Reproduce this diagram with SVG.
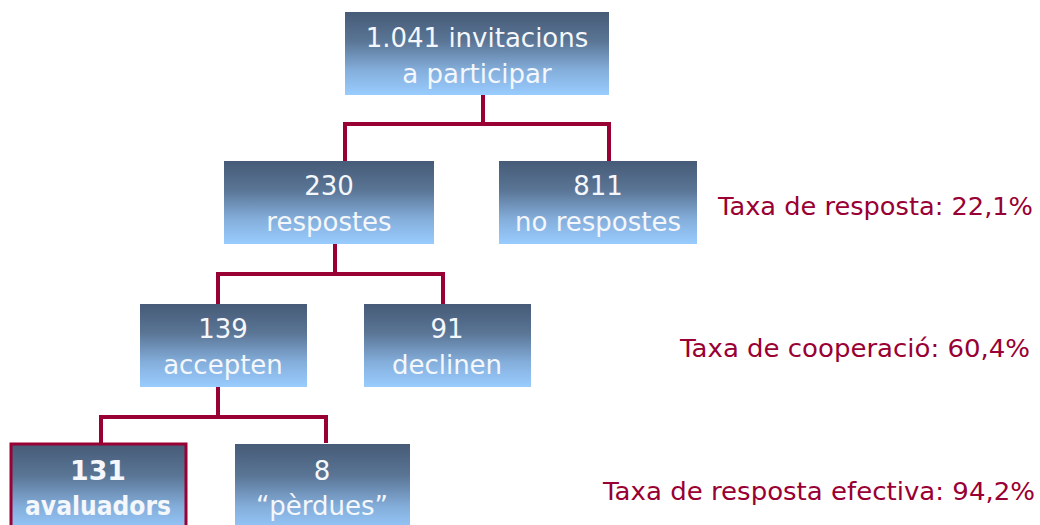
<svg xmlns="http://www.w3.org/2000/svg" width="1040" height="525" viewBox="0 0 1040 525">
<defs>
<linearGradient id="g" x1="0" y1="0" x2="0" y2="1">
<stop offset="0" stop-color="#465b77"/>
<stop offset="0.35" stop-color="#5a7595"/>
<stop offset="0.7" stop-color="#84aedb"/>
<stop offset="1" stop-color="#99ccff"/>
</linearGradient>
</defs>
<style>
.box{fill:url(#g);}
.t{font-family:"DejaVu Sans",Verdana,sans-serif;font-size:26px;fill:#f4f7fb;text-anchor:middle;}
.b{font-weight:bold;}
.c{fill:none;stroke:#990033;stroke-width:4;stroke-linejoin:miter;}
.r{font-family:"DejaVu Sans",Verdana,sans-serif;font-size:25px;fill:#990033;}
</style>
<rect width="1040" height="525" fill="#ffffff"/>
<g id="connectors">
<path class="c" d="M483 95V124M345 161V124H609V161"/>
<path class="c" d="M335 244V274M218 304V274H443V304"/>
<path class="c" d="M218 387V417M101 443V417H326V443"/>
</g>
<g id="n1"><rect class="box" x="345" y="12" width="264" height="83"/>
<text class="t" x="477" y="47">1.041 invitacions</text><text class="t" x="477" y="83">a participar</text></g>
<g id="n2"><rect class="box" x="224" y="161" width="210" height="83"/>
<text class="t" x="329" y="195">230</text><text class="t" x="329" y="231">respostes</text></g>
<g id="n3"><rect class="box" x="499" y="161" width="198" height="83"/>
<text class="t" x="598" y="195">811</text><text class="t" x="598" y="231">no respostes</text></g>
<g id="n4"><rect class="box" x="140" y="304" width="167" height="83"/>
<text class="t" x="223" y="338">139</text><text class="t" x="223" y="374">accepten</text></g>
<g id="n5"><rect class="box" x="364" y="304" width="167" height="83"/>
<text class="t" x="447" y="338">91</text><text class="t" x="447" y="374">declinen</text></g>
<g id="n6"><rect class="box" x="11" y="444" width="175" height="90" stroke="#990033" stroke-width="3"/>
<text class="t b" x="98" y="480" textLength="56" lengthAdjust="spacingAndGlyphs">131</text><text class="t b" x="98" y="515" textLength="146" lengthAdjust="spacingAndGlyphs">avaluadors</text></g>
<g id="n7"><rect class="box" x="235" y="444" width="175" height="90"/>
<text class="t" x="322" y="480">8</text><text class="t" x="322" y="515">“pèrdues”</text></g>
<g id="labels">
<text class="r" x="718" y="215" textLength="315" lengthAdjust="spacingAndGlyphs">Taxa de resposta: 22,1%</text>
<text class="r" x="680" y="357" textLength="350" lengthAdjust="spacingAndGlyphs">Taxa de cooperació: 60,4%</text>
<text class="r" x="603" y="500" textLength="432" lengthAdjust="spacingAndGlyphs">Taxa de resposta efectiva: 94,2%</text>
</g>
</svg>
